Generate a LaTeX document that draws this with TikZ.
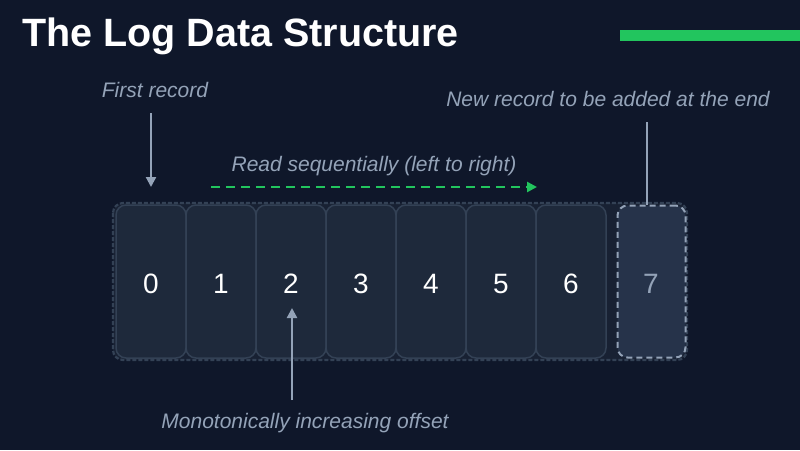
\documentclass[tikz,border=0pt]{standalone}
\usepackage{fontspec}
\setmainfont{Liberation Sans}
\usetikzlibrary{arrows.meta}
\definecolor{bg}{HTML}{0F172A}
\definecolor{contfill}{HTML}{182133}
\definecolor{cellfill}{HTML}{1E293B}
\definecolor{cellline}{HTML}{334155}
\definecolor{newfill}{HTML}{26334A}
\definecolor{muted}{HTML}{94A3B8}
\definecolor{accent}{HTML}{22C55E}
\tikzset{
  cellbox/.style={draw=cellline, line width=1.5pt, fill=cellfill, rounded corners=10pt,
    minimum width=70pt, minimum height=153pt, inner sep=0pt},
  newbox/.style={draw=muted, line width=2pt, dash pattern=on 6pt off 4pt, fill=newfill,
    rounded corners=10pt, minimum width=68pt, minimum height=152pt, inner sep=0pt},
  digit/.style={inner sep=0pt, font=\fontsize{28}{30}\selectfont},
  lbl/.style={text=muted, font=\fontsize{21}{24}\selectfont\itshape, inner sep=0pt},
  pointer/.style={draw=muted, line width=2.2pt, -{Triangle[length=10pt,width=10pt]}},
}
\begin{document}
\begin{tikzpicture}[x=1pt,y=-1pt]
\useasboundingbox (0,0) rectangle (800,450);
\fill[bg] (0,0) rectangle (800,450);
% title and accent bar
\node[anchor=base west, inner sep=0pt, text=white, font=\fontsize{39.5}{42}\selectfont\bfseries] (title) at (22,46) {The Log Data Structure};
\fill[accent] (620,30) rectangle (800,41);
% container
\draw[draw=cellline, line width=2.2pt, dash pattern=on 4pt off 2pt, fill=contfill, rounded corners=10pt] (113,203) rectangle (687,360);
% cells
\foreach \i in {0,...,6}{
  \node[cellbox] (c\i) at ({151+70*\i},281.5) {};
  \node[digit, text=white] (t\i) at ({151+70*\i},284) {\i};
}
\node[newbox] (c7) at (651.5,281.5) {};
\node[digit, text=muted] (t7) at (651,284) {7};
% labels
\node[lbl, anchor=base] (first) at (155,97) {First record};
\node[lbl, anchor=base] (newrec) at (608,106) {New record to be added at the end};
\node[lbl, anchor=base] (read) at (374,171) {Read sequentially (left to right)};
\node[lbl, anchor=base] (mono) at (305,428) {Monotonically increasing offset};
% connectors
\coordinate (fa) at (151,113);
\coordinate (fb) at (151,187);
\draw[pointer] (fa) -- (fb);
\coordinate (ga) at (211,187);
\coordinate (gb) at (537,187);
\draw[draw=accent, line width=2.6pt, dash pattern=on 9pt off 6pt, -{Triangle[length=10pt,width=10pt]}] (ga) -- (gb);
\coordinate (na) at (647,122);
\draw[draw=muted, line width=2.2pt] (na) -- (c7.north -| na);
\coordinate (ma) at (292,400);
\coordinate (mb) at (292,308);
\draw[pointer] (ma) -- (mb);
\end{tikzpicture}
\end{document}
